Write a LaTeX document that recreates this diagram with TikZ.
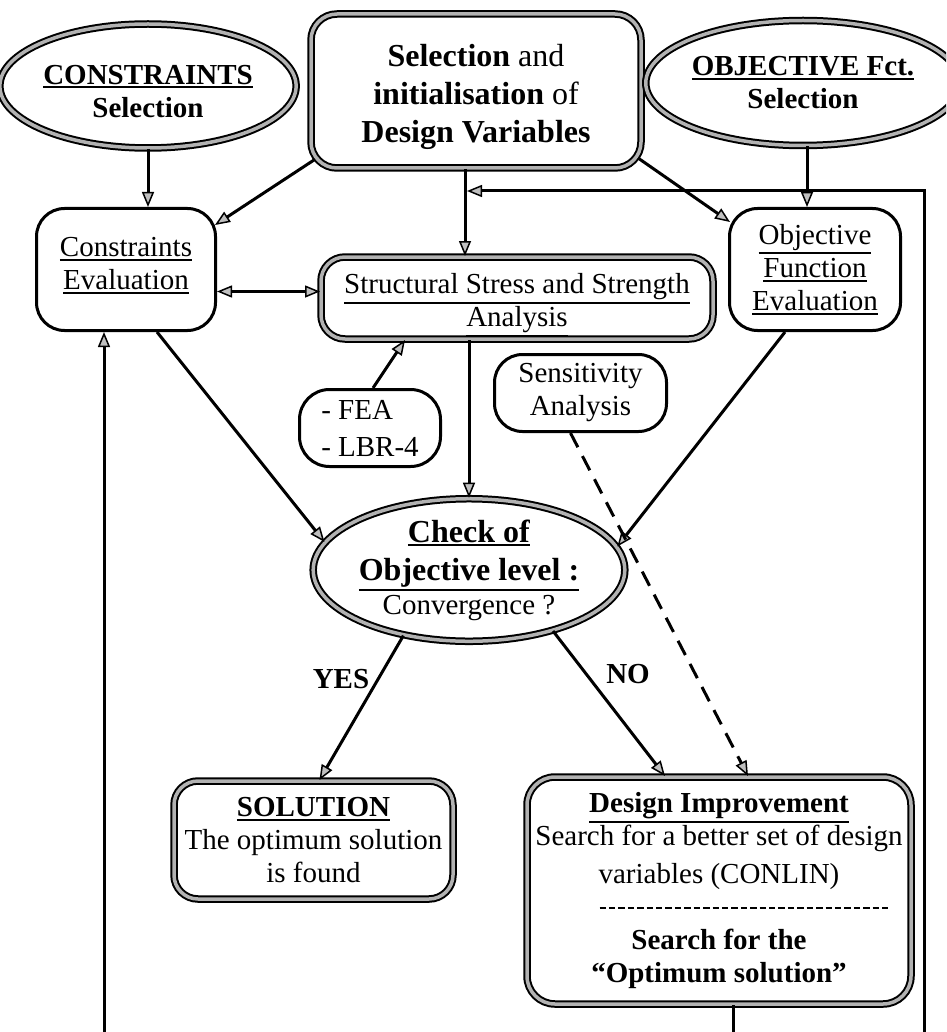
\documentclass[tikz,border=0pt]{standalone}
\usepackage{fontspec}
\setmainfont{Liberation Serif}
\usetikzlibrary{arrows.meta,shapes.geometric,calc}
\newcommand\myul[1]{\setbox0\hbox{#1}\leavevmode\rlap{\raisebox{\dimexpr-\dp0-3.8pt\relax}{\rule{\wd0}{2pt}}}\box0}
\newcommand\dashrule{\hbox to 292pt{\xleaders\hbox to 9.4pt{\hss\rule{6.4pt}{2.2pt}\hss}\hfill}}
\begin{document}
\begin{tikzpicture}[x=1pt,y=-1pt,
  every node/.style={font=\fontsize{29}{33}\selectfont, inner sep=0pt, align=center},
  dbl/.style={draw=black, line width=2pt, double=gray!60, double distance=3.5pt},
  dbox/.style={dbl, rectangle, rounded corners=24pt},
  tbox/.style={draw=black, line width=3pt, rectangle, rounded corners=28pt},
  dell/.style={dbl, ellipse},
  tip/.tip={Triangle[length=15pt,width=12pt,fill=gray!50,line width=1.5pt]},
  arr/.style={line width=3pt, -tip},
  darr/.style={line width=3pt, tip-tip},
  dasharr/.style={line width=3pt, -tip, dash pattern=on 16pt off 10pt},
]
\useasboundingbox (0,0) rectangle (946,1032);
\fill[white] (0,0) rectangle (946,1032);
\clip (0,0) rectangle (946,1032);

% nodes
\node[dell, minimum width=272pt, minimum height=124pt] (cons) at (148,86)
  {\rule{0pt}{30pt}\myul{\textbf{CONSTRAINTS}}\\\textbf{Selection}};
\node[dbox, rounded corners=26pt, minimum width=330pt, minimum height=154pt,
  font=\fontsize{32}{38}\selectfont] (main) at (476,91)
  {\rule{0pt}{35pt}\textbf{Selection} and\\\textbf{initialisation} of\\\textbf{Design Variables}};
\node[dell, minimum width=278pt, minimum height=125pt] (obj) at (803,83)
  {\myul{\textbf{OBJECTIVE Fct.}}\\\textbf{Selection}};
\node[tbox, minimum width=179pt, minimum height=122pt] (ceval) at (126,269.5)
  {\myul{Constraints}\\\myul{Evaluation}\rule[-12pt]{0pt}{12pt}};
\node[tbox, minimum width=171pt, minimum height=122pt] (oeval) at (815,269.5)
  {\myul{Objective}\\\myul{Function}\\\myul{Evaluation}};
\node[dbox, minimum width=392pt, minimum height=82pt] (struct) at (517,298)
  {\rule{0pt}{34pt}\myul{Structural Stress and Strength}\\\myul{Analysis}};
\node[tbox, rounded corners=30pt, minimum width=141pt, minimum height=77pt, align=left] (fea) at (370,428)
  {- FEA\\[4pt]- LBR-4};
\node[tbox, minimum width=172pt, minimum height=77pt] (sens) at (580.5,393)
  {Sensitivity\\Analysis};
\node[dell, minimum width=284pt, minimum height=142pt, font=\fontsize{32}{38}\selectfont] (check) at (469,570)
  {\myul{\textbf{Check of}}\\\myul{\textbf{Objective level :}}\\[-4pt]{\fontsize{29}{33}\selectfont Convergence ?}};
\node[dbox, minimum width=279pt, minimum height=118pt] (sol) at (313.5,840)
  {\myul{\textbf{SOLUTION}}\\The optimum solution\\is found};
\node[dbox, rounded corners=28pt, minimum width=384pt, minimum height=227pt] (des) at (719,890.5)
  {\myul{\textbf{Design Improvement}}\\Search for a better set of design\\[5pt]variables (CONLIN)\\\hspace*{50pt}\raisebox{7pt}{\dashrule}\\\textbf{Search for the}\\\textbf{“Optimum solution”}};
\node[font=\fontsize{29}{33}\selectfont\bfseries] (yes) at (341,679) {YES};
\node[font=\fontsize{29}{33}\selectfont\bfseries] (no) at (628,674) {NO};

% connectors
\draw[arr] (cons.south) -- (cons.south |- ceval.north);
\draw[arr] ($(main.south west)+(4,-9)$) -- ($(ceval.north east)+(-2,18)$);
\draw[arr] ($(main.south)+(-11,0)$) coordinate (c1) -- (c1 |- struct.north);
\draw[darr] ($(ceval.east)+(0,22)$) coordinate (c2) -- (c2 -| struct.west);
\draw[arr] ($(main.south east)+(-4,-11)$) -- ($(oeval.north west)+(2,15)$);
\draw[arr] ($(obj.south)+(4,0)$) coordinate (c3) -- (c3 |- oeval.north);
\draw[arr] ($(fea.north)+(3,0)$) -- ($(struct.south west)+(85,0)$);
\draw[arr] (check.north |- struct.south) -- (check.north);
\draw[arr] ($(ceval.south)+(31,0)$) -- (check.169);
\draw[arr] ($(oeval.south)+(-30,0)$) -- (check.9);
\draw[arr] (check.225) -- ($(sol.north)+(6,0)$);
\draw[arr] (check.-36) -- ($(des.north)+(-54,0)$);
\draw[dasharr] ($(sens.south)+(-10,0)$) -- ($(des.north)+(29,0)$);

% feedback loops
\coordinate (bl) at (104,1050);
\coordinate (br) at (924,1050);
\coordinate (tin) at (467,191);
\draw[arr] ($(des.south)+(14,0)$) coordinate (c4) |- (br) |- (tin);
\draw[arr] (c4) |- (bl) -- (bl |- ceval.south);
\end{tikzpicture}
\end{document}
